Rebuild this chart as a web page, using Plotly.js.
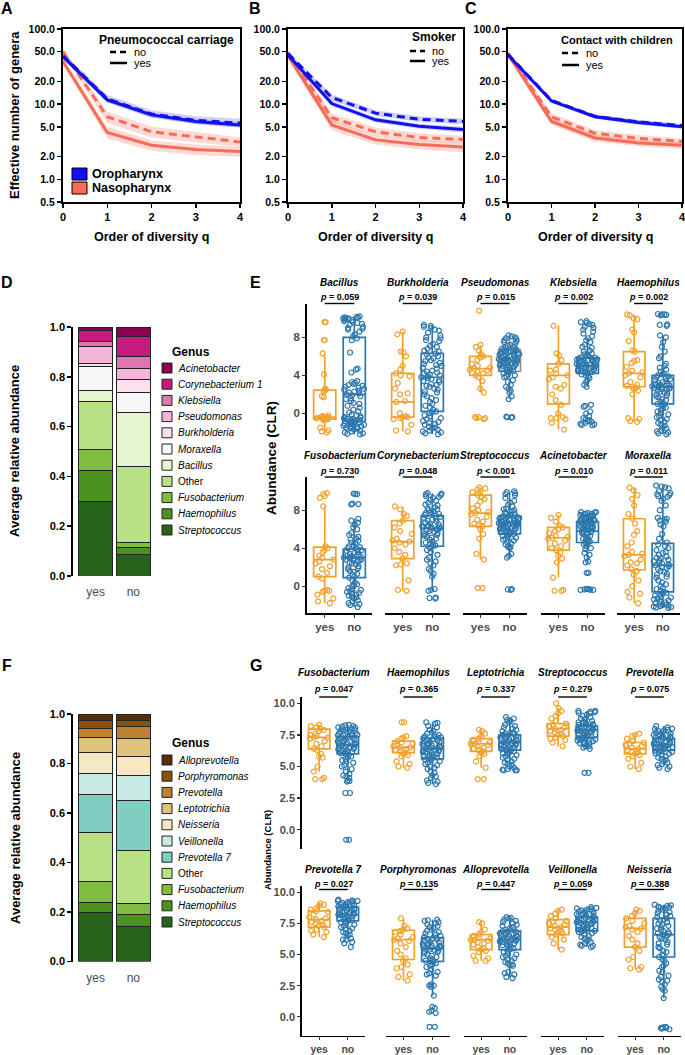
<!DOCTYPE html>
<html><head><meta charset="utf-8">
<script src="https://cdn.plot.ly/plotly-3.0.1.min.js"></script>
<style>html,body{margin:0;padding:0;background:#fff}#chart{width:685px;height:1055px}</style>
</head><body><div id="chart"></div>
<script>
// ================= DATA =================
const qOrder=[0,1,2,3,4];
const divTickVals=[0.5,1,2,5,10,20,50,100];
const divTickText=["0.5","1.0","2.0","5.0","10.0","20.0","50.0","100.0"];
// Panel A – Pneumococcal carriage
const A_oro_no=[44,11.8,7.4,6.1,5.6], A_oro_no_lo=[40,10.6,6.6,5.4,4.9], A_oro_no_hi=[48,13.2,8.3,6.9,6.4];
const A_oro_yes=[43,11.4,7.2,5.9,5.3], A_oro_yes_lo=[40,10.5,6.7,5.5,4.9], A_oro_yes_hi=[46,12.3,7.7,6.3,5.7];
const A_naso_no=[50,6.8,4.3,3.7,3.15], A_naso_no_lo=[46,5.6,3.6,3.1,2.7], A_naso_no_hi=[54,8.0,5.0,4.3,3.6];
const A_naso_yes=[37,4.2,2.85,2.5,2.35], A_naso_yes_lo=[34,3.5,2.4,2.1,2.0], A_naso_yes_hi=[41,5.0,3.3,2.9,2.7];
// Panel B – Smoker
const B_oro_no=[47,12.3,7.6,6.3,5.9], B_oro_no_lo=[44,11.2,7.0,5.8,5.4], B_oro_no_hi=[50,13.5,8.3,6.9,6.4];
const B_oro_yes=[45,10.2,6.2,5.1,4.6], B_oro_yes_lo=[42,9.4,5.7,4.7,4.2], B_oro_yes_hi=[48,11.0,6.7,5.5,5.0];
const B_naso_no=[49,6.6,4.3,3.6,3.4], B_naso_no_lo=[45,5.8,3.8,3.2,3.0], B_naso_no_hi=[53,7.5,4.9,4.1,3.8];
const B_naso_yes=[44,5.3,3.35,2.9,2.7], B_naso_yes_lo=[40,4.5,2.9,2.5,2.3], B_naso_yes_hi=[48,6.2,3.8,3.3,3.1];
// Panel C – Contact with children
const C_oro_no=[46,11.2,6.9,5.8,5.2], C_oro_no_lo=[44,10.6,6.5,5.4,4.9], C_oro_no_hi=[48,11.8,7.3,6.2,5.5];
const C_oro_yes=[45,11.0,6.8,5.7,5.0], C_oro_yes_lo=[43,10.4,6.4,5.3,4.7], C_oro_yes_hi=[47,11.6,7.2,6.1,5.3];
const C_naso_no=[48,6.8,4.1,3.5,3.2], C_naso_no_lo=[45,6.0,3.7,3.1,2.9], C_naso_no_hi=[51,7.6,4.5,3.9,3.5];
const C_naso_yes=[46,5.9,3.55,3.05,2.85], C_naso_yes_lo=[43,5.3,3.2,2.75,2.55], C_naso_yes_hi=[49,6.5,3.9,3.35,3.15];

// Panel D – stacked relative abundance (bottom -> top)
const groups=["yes","no"];
const D_genera=["Streptococcus","Haemophilus","Fusobacterium","Other","Bacillus","Moraxella","Burkholderia","Pseudomonas","Klebsiella","Corynebacterium 1","Acinetobacter"];
const D_yes=[0.30,0.125,0.085,0.19,0.045,0.095,0.015,0.065,0.02,0.045,0.015];
const D_no=[0.085,0.03,0.02,0.305,0.215,0.08,0.055,0.045,0.045,0.08,0.04];
const D_colors=["#276419","#4D9221","#7FBC41","#B8E186","#E6F5D0","#F7F7F7","#FDE0EF","#F1B6DA","#DE77AE","#C51B7D","#8E0152"];
// Panel F
const F_genera=["Streptococcus","Haemophilus","Fusobacterium","Other","Prevotella 7","Veillonella","Neisseria","Leptotrichia","Prevotella","Porphyromonas","Alloprevotella"];
const F_yes=[0.20,0.04,0.085,0.195,0.155,0.085,0.085,0.06,0.035,0.035,0.025];
const F_no=[0.14,0.05,0.045,0.215,0.20,0.10,0.08,0.07,0.05,0.025,0.025];
const F_colors=["#276419","#4D9221","#7FBC41","#B8E186","#80CDC1","#C7EAE5","#F6E8C3","#DFC27D","#BF812D","#8C510A","#543005"];

// Panel E – CLR abundance
const E_titles=["Bacillus","Burkholderia","Pseudomonas","Klebsiella","Haemophilus","Fusobacterium","Corynebacterium","Streptococcus","Acinetobacter","Moraxella"];
const E_p=["= 0.059","= 0.039","= 0.015","= 0.002","= 0.002","= 0.730","= 0.048","&lt; 0.001","= 0.010","= 0.011"];
const E_yes_q1=[-0.6,-0.4,4.0,1.0,2.8,1.0,2.9,6.3,3.8,1.7];
const E_yes_med=[-0.4,1.2,4.7,4.0,4.2,2.8,4.7,7.7,5.1,3.3];
const E_yes_q3=[2.45,4.2,6.0,5.2,6.5,4.1,6.9,9.6,6.2,7.1];
const E_yes_lo=[-2.0,-1.9,2.2,-1.7,-0.9,-1.8,-0.5,2.8,0.9,-1.8];
const E_yes_hi=[6.3,8.6,7.2,9.2,10.4,8.4,8.4,10.4,7.5,10.4];
const E_no_q1=[-0.8,0.2,4.4,4.2,1.0,0.9,4.2,5.5,4.6,-0.6];
const E_no_med=[2.0,3.8,5.6,5.0,2.8,3.0,6.1,6.6,5.8,2.2];
const E_no_q3=[8.0,6.3,6.7,5.8,4.0,3.9,7.4,7.4,6.8,4.5];
const E_no_lo=[-2.2,-2.2,1.5,2.8,-2.2,-2.2,-0.5,3.0,2.5,-2.3];
const E_no_hi=[10.2,9.3,8.2,7.9,8.2,7.1,9.8,10.0,7.8,10.6];
const E_yes_pts=[
 [9.6,9.6,7.7,7.7,6.3,4.1,2.6,2.5,2.4,2.3,1.8,1.7,-0.2,-0.3,-0.4,-0.4,-0.5,-0.5,-0.5,-0.6,-0.6,-0.7,-0.5,-0.4,-1.5,-1.8,-1.9,-2.0],
 [8.6,8.3,6.5,6.4,6.0,5.0,4.6,4.2,4.0,3.9,3.2,2.6,2.1,2.0,1.3,1.2,0.0,-0.3,-0.4,-0.4,-0.5,-0.6,-1.2,-1.8,-1.9],
 [10.8,7.2,7.0,6.6,6.2,6.0,5.9,5.6,5.2,5.0,4.8,4.7,4.6,4.5,4.4,4.2,4.0,3.8,3.4,2.6,2.2,-0.4,-0.5,-0.5,-0.6,-0.4],
 [9.2,6.3,6.1,5.6,5.2,4.6,4.5,4.2,4.0,3.8,3.6,3.0,2.8,2.6,2.0,1.4,0.9,0.0,-0.4,-0.5,-0.5,-0.6,-1.0,-1.7],
 [10.4,10.3,10.0,9.9,8.8,8.5,7.6,6.6,6.5,5.6,5.5,5.3,4.9,4.5,4.3,4.2,4.0,3.8,3.3,3.0,2.9,2.8,2.7,2.6,2.4,2.0,-0.5,-0.6,-0.8,-0.9],
 [9.8,9.7,9.5,9.3,8.4,4.2,4.0,3.8,3.6,3.2,3.0,2.8,2.6,2.4,2.1,1.8,1.4,1.0,0.8,-0.4,-0.5,-0.5,-0.6,-0.9,-1.3,-1.6,-1.8],
 [8.4,8.1,7.6,7.4,6.9,6.6,6.2,5.8,5.5,5.0,4.8,4.7,4.6,4.4,4.0,3.6,3.3,2.9,2.4,2.2,2.3,0.6,-0.4,-0.5],
 [10.4,10.3,10.2,10.0,9.9,9.6,9.4,9.2,8.9,8.5,8.2,8.0,7.8,7.7,7.6,7.3,7.0,6.8,6.6,6.4,6.3,6.0,5.5,5.0,3.4,2.8,-0.2,-0.2],
 [7.5,7.2,6.8,6.4,6.2,6.0,5.8,5.6,5.3,5.2,5.1,5.0,4.8,4.5,4.2,4.0,3.8,3.5,3.2,2.9,2.5,0.9,-0.4,-0.5,-0.5],
 [10.4,10.1,9.6,9.2,8.5,7.6,7.1,6.6,5.8,5.4,4.6,4.2,3.6,3.4,3.3,3.2,2.8,2.5,2.4,2.2,1.8,1.6,1.2,0.6,0.0,-0.6,-0.8,-1.2,-1.8]
];
const E_no_pts=[
 [10.2,10.1,10.0,10.0,9.9,9.8,9.6,9.3,9.0,8.9,8.8,8.3,7.9,7.7,6.4,4.7,4.6,4.3,3.3,3.1,3.0,2.8,2.6,2.4,2.2,2.1,2.0,1.8,1.6,1.3,1.0,0.6,0.2,-0.2,-0.4,-0.5,-0.6,-0.7,-0.8,-0.9,-1.0,-1.1,-1.2,-1.3,-1.4,-1.5,-1.6,-1.8,-2.0,-2.2,
  10.15,10.05,9.95,9.85,9.7,9.5,9.4,9.1,8.6,8.1,3.4,3.2,2.9,2.7,2.5,2.3,1.9,1.5,1.1,0.8,0.4,0.1,-0.1,-0.3,-0.45,-0.55,-0.65,-0.75,-0.85,-0.95,-1.05,-1.15,-1.25,-1.35,-1.45,-1.55,-1.7,-1.9,-2.1,-2.15],
 [9.3,9.2,9.0,8.8,8.5,8.2,7.9,7.6,7.3,7.0,6.8,6.5,6.3,6.0,5.8,5.5,5.2,5.0,4.7,4.4,4.2,4.0,3.8,3.7,3.5,3.3,3.0,2.8,2.5,2.2,2.0,1.6,1.2,0.8,0.4,0.2,0.0,-0.3,-0.5,-0.8,-1.0,-1.2,-1.5,-1.7,-1.9,-2.1,-2.2,
  9.1,8.7,8.0,7.7,7.1,6.6,6.2,5.9,5.6,5.3,5.1,4.8,4.5,4.3,4.1,3.9,3.6,3.4,3.1,2.9,2.6,2.3,1.8,1.4,1.0,0.6,0.1,-0.2,-0.6,-0.9,-1.1,-1.4,-1.6,-1.8,-2.0],
 [8.2,8.1,8.0,7.8,7.6,7.4,7.2,7.0,6.9,6.7,6.6,6.5,6.4,6.3,6.2,6.1,6.0,5.9,5.8,5.7,5.6,5.6,5.5,5.4,5.3,5.2,5.1,5.0,4.9,4.8,4.6,4.5,4.4,4.2,4.0,3.8,3.5,3.0,2.6,2.2,1.8,1.5,-0.4,-0.4,
  7.9,7.7,7.5,7.1,6.8,6.75,6.65,6.55,6.45,6.35,6.25,6.15,6.05,5.95,5.85,5.75,5.65,5.55,5.45,5.35,5.25,5.15,5.05,4.95,4.85,4.75,4.55,4.35,4.1,3.9,3.3,2.8,2.4,-0.45,-0.35],
 [9.6,9.5,9.3,9.0,8.8,8.4,7.9,7.5,7.2,6.9,6.6,6.3,6.1,5.9,5.8,5.7,5.6,5.5,5.4,5.3,5.2,5.1,5.0,4.9,4.8,4.7,4.6,4.5,4.4,4.3,4.2,4.0,3.7,3.3,2.8,0.9,0.8,0.0,-0.3,-0.6,-0.8,-1.0,-1.1,-1.2,
  9.7,9.4,9.1,8.6,8.1,7.7,7.0,6.5,6.2,6.0,5.85,5.75,5.65,5.55,5.45,5.35,5.25,5.15,5.05,4.95,4.85,4.75,4.65,4.55,4.45,4.35,4.1,3.9,3.5,3.0,0.7,0.2,-0.5,-0.9,-1.15,-1.25,-0.7],
 [10.4,10.4,10.3,9.3,9.2,8.2,7.5,6.5,5.8,5.2,4.8,4.6,4.2,4.0,3.8,3.6,3.4,3.2,3.1,3.0,2.9,2.8,2.7,2.6,2.5,2.3,2.1,2.0,1.8,1.5,1.2,1.0,0.8,0.5,0.2,0.0,-0.3,-0.6,-0.9,-1.2,-1.5,-1.8,-2.0,-2.2,
  10.45,10.35,9.35,8.0,7.0,6.0,5.0,4.4,4.1,3.9,3.7,3.5,3.3,3.05,2.95,2.85,2.75,2.65,2.55,2.45,2.2,1.9,1.7,1.4,1.1,0.9,0.6,0.3,-0.1,-0.4,-0.7,-1.0,-1.3,-1.6,-1.9,-2.1],
 [9.7,9.7,8.7,8.6,7.1,6.9,6.5,6.0,5.6,5.2,5.0,4.8,4.5,4.2,4.0,3.8,3.6,3.4,3.2,3.1,3.0,2.9,2.8,2.7,2.5,2.3,2.0,1.8,1.5,1.2,1.0,0.6,0.2,0.0,-0.3,-0.5,-0.7,-0.9,-1.1,-1.3,-1.6,-1.9,-2.2,
  9.75,8.65,6.7,6.2,5.4,4.9,4.6,4.3,4.1,3.9,3.7,3.5,3.3,3.15,3.05,2.95,2.85,2.75,2.6,2.4,2.1,1.9,1.6,1.3,0.9,0.4,0.1,-0.2,-0.4,-0.6,-0.8,-1.0,-1.2,-1.5,-1.8,-2.0],
 [9.8,9.7,9.5,9.3,9.1,8.8,8.5,8.2,8.0,7.8,7.6,7.4,7.2,7.0,6.8,6.6,6.4,6.3,6.2,6.1,6.0,5.9,5.7,5.5,5.3,5.1,4.9,4.6,4.4,4.2,4.0,3.6,3.0,2.6,2.2,1.6,1.0,-0.3,-0.5,-1.2,-1.3,
  9.75,9.6,9.4,9.0,8.6,8.3,8.1,7.9,7.7,7.5,7.3,7.1,6.9,6.7,6.5,6.35,6.25,6.15,6.05,5.8,5.6,5.4,5.2,5.0,4.7,4.5,4.3,3.8,3.3,2.8,2.4,1.8,1.3,-0.4,-1.25],
 [10.0,9.8,9.6,9.0,8.6,8.2,8.0,7.8,7.6,7.4,7.3,7.2,7.1,7.0,6.9,6.8,6.7,6.6,6.6,6.5,6.4,6.3,6.2,6.1,6.0,5.9,5.8,5.7,5.6,5.5,5.4,5.2,5.0,4.8,4.6,4.4,4.2,4.0,3.4,3.0,-0.3,-0.4,
  9.9,9.7,9.3,8.8,8.4,8.1,7.9,7.7,7.5,7.35,7.25,7.15,7.05,6.95,6.85,6.75,6.65,6.55,6.45,6.35,6.25,6.15,6.05,5.95,5.85,5.75,5.65,5.5,5.3,5.1,4.9,4.5,4.1,3.2,-0.35],
 [7.8,7.7,7.6,7.5,7.4,7.3,7.2,7.1,7.0,6.9,6.8,6.7,6.6,6.5,6.4,6.3,6.2,6.1,6.0,5.9,5.8,5.7,5.6,5.5,5.3,5.1,4.9,4.7,4.6,4.4,4.2,3.9,3.5,3.0,2.5,1.4,1.4,-0.3,-0.4,-0.4,-0.3,
  7.8,7.75,7.65,7.55,7.45,7.35,7.25,7.15,7.05,6.95,6.85,6.75,6.65,6.55,6.45,6.35,6.25,6.15,6.05,5.95,5.75,5.5,5.2,5.0,4.8,4.5,4.0,3.3,2.6,-0.35,-0.3,-0.4],
 [10.6,10.4,10.0,9.7,9.6,9.4,9.0,8.5,7.1,7.0,6.8,6.5,5.5,4.6,4.4,4.0,3.6,3.3,3.0,2.8,2.6,2.4,2.2,2.0,1.8,1.5,1.2,1.0,0.6,0.2,-0.2,-0.5,-0.7,-0.9,-1.1,-1.3,-1.5,-1.7,-1.9,-2.0,-2.1,-2.2,-2.3,
  10.5,10.3,9.8,9.5,9.2,8.0,7.2,6.9,6.3,5.0,4.2,3.8,3.5,3.1,2.9,2.7,2.5,2.3,2.1,1.9,1.6,1.3,0.9,0.4,0.0,-0.3,-0.6,-0.8,-1.0,-1.2,-1.4,-1.6,-1.8,-1.95,-2.05,-2.15,-2.25]
];
const E_yTickVals=[0,4,8], E_yTickText=["0","4","8"];

// Panel G – CLR abundance
const G_titles=["Fusobacterium","Haemophilus","Leptotrichia","Streptococcus","Prevotella","Prevotella 7","Porphyromonas","Alloprevotella","Veillonella","Neisseria"];
const G_p=["= 0.047","= 0.365","= 0.337","= 0.279","= 0.075","= 0.027","= 0.135","= 0.447","= 0.059","= 0.388"];
const G_yes_q1=[6.4,6.1,6.2,7.4,6.0,7.2,4.6,5.4,6.6,5.6];
const G_yes_med=[7.3,6.5,6.8,8.0,6.4,7.8,6.2,6.2,7.2,7.1];
const G_yes_q3=[7.95,7.0,7.2,8.4,6.9,8.5,6.95,6.6,7.8,7.9];
const G_yes_lo=[4.6,4.9,4.9,6.6,4.8,6.4,2.9,4.5,5.4,3.8];
const G_yes_hi=[8.3,7.4,7.9,9.6,7.6,9.1,7.9,7.6,8.6,8.6];
const G_no_q1=[6.0,5.6,6.3,7.3,6.3,7.7,4.45,5.4,6.9,4.8];
const G_no_med=[6.7,6.4,6.9,7.9,6.7,8.2,5.5,6.2,7.6,6.6];
const G_no_q3=[7.35,7.25,7.5,8.2,7.2,8.8,6.35,6.9,8.0,7.9];
const G_no_lo=[4.1,3.6,4.7,6.4,5.1,6.2,1.7,3.2,5.6,1.5];
const G_no_hi=[8.3,8.5,8.9,9.4,8.2,9.4,7.8,8.0,8.8,9.0];
const G_yes_pts=[
 [8.3,8.2,8.1,8.0,7.9,7.8,7.6,7.5,7.4,7.3,7.3,7.2,7.0,6.8,6.6,6.4,6.3,6.0,5.8,5.7,5.0,4.6,4.1,4.0,4.0],
 [8.5,8.5,7.4,7.3,7.2,7.0,6.9,6.8,6.7,6.6,6.5,6.5,6.4,6.3,6.2,6.1,6.0,5.9,5.8,5.4,5.2,5.0,4.9],
 [7.9,7.8,7.6,7.4,7.2,7.1,7.0,6.9,6.8,6.8,6.7,6.6,6.5,6.4,6.3,6.2,6.1,6.0,5.8,5.4,4.9,4.0,4.0],
 [10.0,9.6,9.4,9.2,9.0,8.8,8.6,8.4,8.3,8.2,8.1,8.0,7.9,7.8,7.7,7.6,7.5,7.4,7.3,7.2,7.1,6.9,6.6],
 [7.6,7.5,7.4,7.2,7.0,6.9,6.8,6.7,6.6,6.5,6.4,6.3,6.2,6.1,6.0,5.9,5.8,5.6,5.3,5.0,4.8],
 [9.1,9.0,8.9,8.7,8.6,8.5,8.4,8.2,8.0,7.9,7.8,7.7,7.6,7.5,7.4,7.3,7.2,7.0,6.9,6.8,6.6,6.4],
 [7.9,7.3,7.1,7.0,6.9,6.8,6.6,6.4,6.3,6.2,6.1,5.9,5.6,5.3,5.0,4.7,4.5,4.2,4.0,3.9,3.4,3.2,2.9],
 [7.6,7.5,7.0,6.8,6.6,6.5,6.4,6.3,6.2,6.2,6.1,6.0,5.9,5.8,5.6,5.5,5.4,5.3,5.2,4.9,4.7,4.5,4.5],
 [8.6,8.5,8.3,8.1,7.9,7.7,7.6,7.5,7.4,7.3,7.2,7.1,7.0,6.9,6.8,6.7,6.6,6.4,6.2,5.9,5.4],
 [8.6,8.5,8.3,8.1,7.9,7.7,7.5,7.3,7.2,7.1,7.0,6.8,6.5,6.2,5.9,5.6,5.3,4.8,4.6,4.0,3.9,3.8]
];
const G_no_pts=[
 [8.3,8.2,8.1,8.0,7.9,7.8,7.7,7.6,7.5,7.4,7.3,7.2,7.1,7.0,6.9,6.8,6.7,6.7,6.6,6.5,6.4,6.3,6.2,6.1,6.0,5.9,5.7,5.5,5.3,5.0,4.8,4.6,4.3,4.1,3.9,3.8,2.9,2.9,-0.8,-0.8,
  8.25,8.15,8.05,7.95,7.85,7.75,7.65,7.55,7.45,7.35,7.25,7.15,7.05,6.95,6.85,6.75,6.65,6.55,6.45,6.35,6.25,6.15,6.05,5.8,5.6,5.4,5.1,4.4,4.2,3.85],
 [8.5,8.4,8.2,7.9,7.8,7.6,7.4,7.3,7.2,7.1,7.0,6.9,6.8,6.7,6.6,6.5,6.4,6.4,6.3,6.2,6.1,6.0,5.9,5.8,5.7,5.6,5.5,5.3,5.1,4.9,4.6,4.3,4.1,3.9,3.8,3.6,
  8.45,8.1,7.7,7.5,7.35,7.25,7.15,7.05,6.95,6.85,6.75,6.65,6.55,6.45,6.35,6.25,6.15,6.05,5.95,5.85,5.75,5.65,5.55,5.4,5.2,5.0,4.8,4.5,4.2,3.7],
 [8.9,8.7,8.6,8.3,8.1,7.9,7.7,7.6,7.5,7.4,7.3,7.2,7.1,7.0,6.9,6.9,6.8,6.7,6.6,6.5,6.4,6.3,6.2,6.1,6.0,5.8,5.6,5.4,5.2,5.0,4.8,4.7,4.7,
  8.8,8.5,8.2,8.0,7.8,7.65,7.55,7.45,7.35,7.25,7.15,7.05,6.95,6.85,6.75,6.65,6.55,6.45,6.35,6.25,6.15,6.05,5.9,5.7,5.5,5.3,5.1,4.9,4.75,4.7],
 [9.4,9.4,9.3,9.2,9.0,8.8,8.6,8.5,8.4,8.3,8.2,8.1,8.0,7.9,7.9,7.8,7.7,7.6,7.5,7.4,7.3,7.2,7.1,7.0,6.9,6.8,6.7,6.6,6.4,4.5,4.5,
  9.35,9.25,9.1,8.9,8.7,8.55,8.45,8.35,8.25,8.15,8.05,7.95,7.85,7.75,7.65,7.55,7.45,7.35,7.25,7.15,7.05,6.95,6.85,6.75,6.6,6.5],
 [8.2,8.0,7.9,7.8,7.7,7.6,7.5,7.4,7.3,7.2,7.1,7.0,6.9,6.8,6.7,6.7,6.6,6.5,6.4,6.3,6.2,6.1,6.0,5.9,5.7,5.5,5.3,5.1,4.9,4.8,
  8.1,7.95,7.85,7.75,7.65,7.55,7.45,7.35,7.25,7.15,7.05,6.95,6.85,6.75,6.65,6.55,6.45,6.35,6.25,6.15,6.05,5.8,5.6,5.4,5.2,5.0],
 [9.4,9.3,9.3,9.2,9.1,9.0,8.9,8.8,8.7,8.6,8.5,8.4,8.3,8.2,8.2,8.1,8.0,7.9,7.8,7.7,7.6,7.5,7.3,7.1,6.9,6.7,6.5,6.2,6.2,5.9,5.6,
  9.35,9.25,9.15,9.05,8.95,8.85,8.75,8.65,8.55,8.45,8.35,8.25,8.15,8.05,7.95,7.85,7.75,7.65,7.4,7.2,7.0,6.8,6.6,6.3,6.0],
 [7.8,7.7,7.6,7.4,7.2,7.0,6.8,6.6,6.4,6.3,6.2,6.0,5.9,5.8,5.7,5.6,5.5,5.4,5.3,5.2,5.0,4.8,4.6,4.5,4.4,4.2,4.0,3.6,3.5,3.4,2.6,2.5,2.4,1.7,0.8,0.7,0.4,0.3,-0.8,-0.8,
  7.75,7.5,7.3,7.1,6.9,6.7,6.5,6.35,6.25,6.1,5.95,5.85,5.75,5.65,5.55,5.45,5.35,5.25,5.1,4.9,4.7,4.5,4.3,4.1,3.8,3.3,2.5,0.5],
 [8.0,7.9,7.8,7.6,7.4,7.2,7.0,6.9,6.8,6.7,6.6,6.5,6.4,6.3,6.2,6.2,6.1,6.0,5.9,5.8,5.7,5.6,5.4,5.2,5.0,4.8,4.6,4.4,4.2,4.1,3.6,3.4,3.1,3.2,
  7.95,7.7,7.5,7.3,7.1,6.95,6.85,6.75,6.65,6.55,6.45,6.35,6.25,6.15,6.05,5.95,5.85,5.75,5.5,5.3,5.1,4.9,4.7,4.5,4.3,4.15,3.5],
 [8.8,8.7,8.6,8.5,8.4,8.3,8.2,8.1,8.0,7.9,7.8,7.7,7.6,7.6,7.5,7.4,7.3,7.2,7.1,7.0,6.9,6.8,6.7,6.5,6.3,6.1,6.0,5.8,5.7,5.6,
  8.75,8.65,8.55,8.45,8.35,8.25,8.15,8.05,7.95,7.85,7.75,7.65,7.55,7.45,7.35,7.25,7.15,7.05,6.95,6.85,6.6,6.4,6.2,5.9,5.7],
 [9.0,8.9,8.8,8.7,8.5,8.3,8.1,7.9,7.7,7.5,7.3,7.2,7.0,6.8,6.7,6.6,6.5,6.3,6.0,5.8,5.5,5.2,5.0,4.8,4.6,4.3,4.0,3.6,3.2,3.0,2.8,2.4,2.1,1.5,-0.8,-0.9,-1.0,-0.9,
  8.95,8.85,8.75,8.6,8.4,8.2,8.0,7.8,7.6,7.4,7.1,6.9,6.65,6.4,6.2,5.9,5.6,5.3,4.9,4.5,4.1,3.7,3.3,2.9,2.6,2.2,-0.85,-0.95]
];
const G_yTickVals=[0,2.5,5,7.5,10], G_yTickText=["0.0","2.5","5.0","7.5","10.0"];

// ================= STYLE / LAYOUT =================
const FONT='"Liberation Sans", Arial, Helvetica, sans-serif';
const BLUE='#1111F0', RED='#F86C57';
const BLUE_BAND='rgba(100,100,235,0.30)', RED_BAND='rgba(248,108,87,0.25)';
const ORANGE='#F2A12B', TEAL='#2C77AD', GREYBOX='#8C8C8C', TXTGREY='#4d4d4d';
const W=685,H=1055;
const X=p=>p/W, Y=p=>1-p/H;
const layout={width:W,height:H,margin:{l:0,r:0,t:0,b:0},paper_bgcolor:'#fff',plot_bgcolor:'rgba(0,0,0,0)',
  showlegend:false,barmode:'stack',boxmode:'overlay',font:{family:FONT,color:'#000'},annotations:[],shapes:[]};
const traces=[];
let axN=0;
function addAxes(x0,x1,y0,y1,xo,yo){
  axN++; const k=axN===1?'':String(axN);
  layout['xaxis'+k]=Object.assign({domain:[X(x0),X(x1)],anchor:'y'+k,showgrid:false,zeroline:false,fixedrange:true,ticklabeloverflow:'allow'},xo);
  layout['yaxis'+k]=Object.assign({domain:[Y(y1),Y(y0)],anchor:'x'+k,showgrid:false,zeroline:false,fixedrange:true,ticklabeloverflow:'allow'},yo);
  return {x:'x'+k,y:'y'+k};
}
function ann(o){layout.annotations.push(Object.assign({showarrow:false,xref:'paper',yref:'paper'},o));}
function paperText(px,py,text,size,opts){ann(Object.assign({x:X(px),y:Y(py),text:text,font:{size:size,family:FONT,color:'#000'},xanchor:'center',yanchor:'middle'},opts||{}));}

// ---- diversity panels ----
function band(ax,lo,hi,color){
  traces.push({type:'scatter',mode:'lines',xaxis:ax.x,yaxis:ax.y,x:qOrder.concat(qOrder.slice().reverse()),
    y:hi.concat(lo.slice().reverse()),fill:'toself',fillcolor:color,line:{width:0},hoverinfo:'skip'});
}
function line(ax,vals,color,dash){
  traces.push({type:'scatter',mode:'lines',xaxis:ax.x,yaxis:ax.y,x:qOrder,y:vals,line:{color:color,width:3,dash:dash},hoverinfo:'skip'});
}
function diversity(x0,x1,d){
  const ax=addAxes(x0,x1,29,202,
    {range:[0,4],tickvals:qOrder,ticks:'outside',ticklen:4,tickwidth:1.5,tickcolor:'#000',showline:true,mirror:true,linewidth:2,linecolor:'#000',
     tickfont:{size:11,family:FONT,weight:'bold',color:'#000'}},
    {type:'log',range:[Math.log10(0.5),2],tickvals:divTickVals,ticktext:divTickText,ticks:'outside',ticklen:4,tickwidth:1.5,tickcolor:'#000',
     showline:true,mirror:true,linewidth:2,linecolor:'#000',tickfont:{size:10.5,family:FONT,weight:'bold',color:'#000'}});
  band(ax,d.nnLo,d.nnHi,RED_BAND); band(ax,d.nyLo,d.nyHi,RED_BAND);
  band(ax,d.onLo,d.onHi,BLUE_BAND); band(ax,d.oyLo,d.oyHi,BLUE_BAND);
  line(ax,d.ny,RED,'solid'); line(ax,d.nn,RED,'8px,5px');
  line(ax,d.oy,BLUE,'solid'); line(ax,d.on,BLUE,'8px,5px');
  paperText((x0+x1)/2,237,'<b>Order of diversity q</b>',12.5);
}
diversity(63,240,{on:A_oro_no,onLo:A_oro_no_lo,onHi:A_oro_no_hi,oy:A_oro_yes,oyLo:A_oro_yes_lo,oyHi:A_oro_yes_hi,
  nn:A_naso_no,nnLo:A_naso_no_lo,nnHi:A_naso_no_hi,ny:A_naso_yes,nyLo:A_naso_yes_lo,nyHi:A_naso_yes_hi});
diversity(288,463,{on:B_oro_no,onLo:B_oro_no_lo,onHi:B_oro_no_hi,oy:B_oro_yes,oyLo:B_oro_yes_lo,oyHi:B_oro_yes_hi,
  nn:B_naso_no,nnLo:B_naso_no_lo,nnHi:B_naso_no_hi,ny:B_naso_yes,nyLo:B_naso_yes_lo,nyHi:B_naso_yes_hi});
diversity(508,682,{on:C_oro_no,onLo:C_oro_no_lo,onHi:C_oro_no_hi,oy:C_oro_yes,oyLo:C_oro_yes_lo,oyHi:C_oro_yes_hi,
  nn:C_naso_no,nnLo:C_naso_no_lo,nnHi:C_naso_no_hi,ny:C_naso_yes,nyLo:C_naso_yes_lo,nyHi:C_naso_yes_hi});
paperText(14,115,'<b>Effective number of genera</b>',13,{textangle:-90});

// line-style legends
function dashLegend(title,tx,ty,sx0,sx1,noY,yesY,textX,size){
  paperText(tx,ty,'<b>'+title+'</b>',size,{xanchor:'left'});
  layout.shapes.push({type:'line',xref:'paper',yref:'paper',x0:X(sx0),x1:X(sx1),y0:Y(noY),y1:Y(noY),line:{color:'#000',width:2.5,dash:'6px,4px'}});
  layout.shapes.push({type:'line',xref:'paper',yref:'paper',x0:X(sx0),x1:X(sx1),y0:Y(yesY),y1:Y(yesY),line:{color:'#000',width:2.5}});
  paperText(textX,noY,'no',11,{xanchor:'left'});
  paperText(textX,yesY,'yes',11,{xanchor:'left'});
}
dashLegend('Pneumococcal carriage',97,40,110,127,52,63,132,12);
dashLegend('Smoker',410,37,410,425,51,61,430,12);
dashLegend('Contact with children',559,40,562,579,53,65,584,11);
// colour legend in A
layout.shapes.push({type:'rect',xref:'paper',yref:'paper',x0:X(72),x1:X(87),y0:Y(180),y1:Y(168),fillcolor:BLUE,line:{color:'#000',width:1}});
layout.shapes.push({type:'rect',xref:'paper',yref:'paper',x0:X(72),x1:X(87),y0:Y(194),y1:Y(182),fillcolor:RED,line:{color:'#000',width:1}});
paperText(90,174,'<b>Oropharynx</b>',12.5,{xanchor:'left'});
paperText(90,188,'<b>Nasopharynx</b>',12.5,{xanchor:'left'});

// ---- stacked bars ----
function stacked(yTop,yBot,genera,yesV,noV,colors,legTitleY,legStartY){
  const ax=addAxes(73,156,yTop,yBot,
    {range:[0.4,2.6],tickvals:[1,2],ticktext:groups,ticks:'outside',ticklen:5,tickcolor:'rgba(0,0,0,0)',showline:false,
     tickfont:{size:12,family:FONT,color:TXTGREY}},
    {range:[0,1],tickvals:[0,0.2,0.4,0.6,0.8,1.0],ticktext:['0.0','0.2','0.4','0.6','0.8','1.0'],ticks:'outside',ticklen:4,tickwidth:1.5,
     tickcolor:'#000',showline:true,linewidth:1.8,linecolor:'#000',tickfont:{size:11,family:FONT,weight:'bold',color:'#000'}});
  genera.forEach((g,i)=>{
    traces.push({type:'bar',xaxis:ax.x,yaxis:ax.y,x:[1,2],y:[yesV[i],noV[i]],width:0.9,name:g,
      marker:{color:colors[i],line:{color:'#222',width:1}},hoverinfo:'skip'});
  });
  paperText(170,legTitleY,'<b>Genus</b>',12,{xanchor:'left'});
  const n=genera.length;
  for(let j=0;j<n;j++){
    const i=n-1-j, cy=legStartY+16.2*j;
    layout.shapes.push({type:'rect',xref:'paper',yref:'paper',x0:X(162),x1:X(172),y0:Y(cy+5),y1:Y(cy-5),fillcolor:colors[i],line:{color:'#222',width:1}});
    const t=genera[i]==='Other'?'Other':'<i>'+genera[i]+'</i>';
    paperText(175.5,cy,t,10,{xanchor:'left'});
  }
}
stacked(327,576,D_genera,D_yes,D_no,D_colors,352,368);
stacked(714,961.5,F_genera,F_yes,F_no,F_colors,743,760);
paperText(15,451,'<b>Average relative abundance</b>',13,{textangle:-90});
paperText(15,838,'<b>Average relative abundance</b>',13,{textangle:-90});

// ---- box facets ----
function facet(xr,yr,range,tv,tt,showY,showX,i,S,titleY,pY,brY,noBoxColor,tickSize,xTickSize){
  const ax=addAxes(xr[0],xr[1],yr[0],yr[1],
    {range:[0.4,2.6],tickvals:[1,2],ticktext:groups,showticklabels:showX,ticks:showX?'outside':'',ticklen:3,tickwidth:1.2,tickcolor:'#333',
     showline:showX,linewidth:1.8,linecolor:'#000',tickfont:{size:xTickSize,family:FONT,weight:'bold',color:TXTGREY}},
    {range:range,tickvals:tv,ticktext:tt,showticklabels:showY,ticks:showY?'outside':'',ticklen:3,tickwidth:1.2,tickcolor:'#333',
     showline:showY,linewidth:1.8,linecolor:'#000',tickfont:{size:tickSize,family:FONT,weight:'bold',color:TXTGREY}});
  const bx=(pos,q1,md,q3,lo,hi,col)=>traces.push({type:'box',xaxis:ax.x,yaxis:ax.y,x:[pos],q1:[q1],median:[md],q3:[q3],
    lowerfence:[lo],upperfence:[hi],width:0.75,whiskerwidth:0,boxpoints:false,fillcolor:'rgba(255,255,255,0)',line:{color:col,width:1.7},hoverinfo:'skip'});
  bx(1,S.yq1[i],S.ymed[i],S.yq3[i],S.ylo[i],S.yhi[i],ORANGE);
  bx(2,S.nq1[i],S.nmed[i],S.nq3[i],S.nlo[i],S.nhi[i],noBoxColor||TEAL);
  const pts=(pos,vals,col)=>traces.push({type:'box',xaxis:ax.x,yaxis:ax.y,x0:pos,y:vals,width:0.75,boxpoints:'all',jitter:1,pointpos:0,
    fillcolor:'rgba(0,0,0,0)',line:{color:'rgba(0,0,0,0)',width:0},marker:{symbol:'circle-open',size:5,color:col,line:{width:1.2,color:col}},hoverinfo:'skip'});
  pts(1,S.ypts[i],ORANGE); pts(2,S.npts[i],TEAL);
  ann({xref:ax.x,yref:'paper',x:1.5,y:Y(titleY),text:'<b><i>'+S.titles[i]+'</i></b>',font:{size:10,family:FONT,color:'#000'},xanchor:'center',yanchor:'middle'});
  ann({xref:ax.x,yref:'paper',x:1.5,y:Y(pY),text:'<b><i>p</i> '+S.p[i]+'</b>',font:{size:9,family:FONT,color:'#000'},xanchor:'center',yanchor:'middle'});
  layout.shapes.push({type:'line',xref:ax.x,yref:'paper',x0:1,x1:2,y0:Y(brY),y1:Y(brY),line:{color:'#000',width:1.4}});
}
const ES={titles:E_titles,p:E_p,yq1:E_yes_q1,ymed:E_yes_med,yq3:E_yes_q3,ylo:E_yes_lo,yhi:E_yes_hi,
  nq1:E_no_q1,nmed:E_no_med,nq3:E_no_q3,nlo:E_no_lo,nhi:E_no_hi,ypts:E_yes_pts,npts:E_no_pts};
const GS={titles:G_titles,p:G_p,yq1:G_yes_q1,ymed:G_yes_med,yq3:G_yes_q3,ylo:G_yes_lo,yhi:G_yes_hi,
  nq1:G_no_q1,nmed:G_no_med,nq3:G_no_q3,nlo:G_no_lo,nhi:G_no_hi,ypts:G_yes_pts,npts:G_no_pts};
const E_cols=[[307,372],[385,450],[463,527],[541,605],[617,680]];
const G_cols=[[302,365],[386,450],[464,527],[541,604],[618,681]];
for(let c=0;c<5;c++){
  facet(E_cols[c],[304,440],[-2.8,11.5],E_yTickVals,E_yTickText,c===0,false,c,ES,282,297,303.5,c===2?GREYBOX:null,11.5,11.5);
}
for(let c=0;c<5;c++){
  facet(E_cols[c],[477,612.7],[-2.8,11.5],E_yTickVals,E_yTickText,c===0,true,c+5,ES,455,471,477,null,11.5,11.5);
}
for(let c=0;c<5;c++){
  facet(G_cols[c],[697,848.6],[-1.5,10.5],G_yTickVals,G_yTickText,c===0,false,c,GS,672,689,697,null,11,11);
}
for(let c=0;c<5;c++){
  facet(G_cols[c],[886,1035.5],[-1.5,10.5],G_yTickVals,G_yTickText,c===0,true,c+5,GS,869,883.5,889.5,null,11,10.5);
}
paperText(271,458,'<b>Abundance (CLR)</b>',13.5,{textangle:-90});
paperText(267,850,'<b>Abundance (CLR)</b>',9.5,{textangle:-90});

// panel letters
[['A',7,9],['B',255,9],['C',471,9],['D',7,282],['E',256,282],['F',7,665],['G',256,665]].forEach(l=>paperText(l[1],l[2],'<b>'+l[0]+'</b>',16,{}));

Plotly.newPlot('chart',traces,layout,{staticPlot:true,displayModeBar:false});
</script></body></html>
